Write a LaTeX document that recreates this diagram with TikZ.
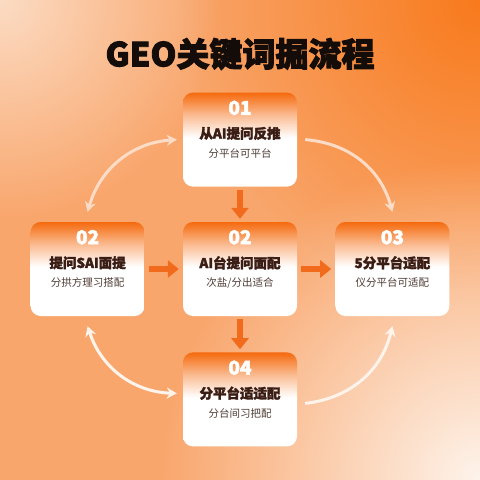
\documentclass[tikz,border=0pt]{standalone}
\usepackage{fontspec}
\newfontfamily\cjk{Noto Sans CJK SC}
\usetikzlibrary{arrows.meta,positioning,fadings}
\newcommand\heavytext[2][0.9]{\special{pdf:literal direct 2 Tr #1 w}#2\special{pdf:literal direct 0 Tr}}
\definecolor{bgpeach}{HTML}{FCDCC4}
\definecolor{bgorange}{HTML}{F9A66C}
\definecolor{bgcream}{HTML}{FEF4EC}
\definecolor{bgdeep}{HTML}{F87A1C}
\definecolor{cardorange}{HTML}{F56A0E}
\definecolor{arroworange}{HTML}{F26A1B}
\definecolor{titleink}{HTML}{140C08}
\definecolor{cardink}{HTML}{3A1D14}
\definecolor{subink}{HTML}{4E3C35}
\definecolor{arcpale}{HTML}{FCDCC6}
\definecolor{arclight}{HTML}{FFF4EC}
\pgfdeclareverticalshading{cardshade}{100bp}{color(0bp)=(white); color(25bp)=(white); color(51bp)=(white); color(63bp)=(cardorange!45!white); color(75bp)=(cardorange); color(100bp)=(cardorange)}
\tikzfading[name=glowfade, inner color=transparent!0, outer color=transparent!100]
\begin{document}
\begin{tikzpicture}[x=1pt,y=-1pt,
    card/.style={shade, shading=cardshade, rounded corners=10pt, minimum width=114pt, minimum height=94pt, inner sep=0pt},
    cardnum/.style={text=white, font=\cjk\bfseries\fontsize{19}{19}\selectfont},
    cardhead/.style={text=cardink, font=\cjk\bfseries\fontsize{13.5}{14}\selectfont},
    cardsub/.style={text=subink, font=\cjk\fontsize{10.5}{11}\selectfont},
    flowarrow/.style={arroworange, line width=6pt, -{Triangle[length=11pt,width=17pt]}},
    oneway/.style={line width=3pt, -{Stealth[length=10pt,width=11pt]}},
    twoway/.style={line width=3pt, {Stealth[length=10pt,width=11pt]}-{Stealth[length=10pt,width=11pt]}}]
    % background
    \useasboundingbox (0,0) rectangle (480,480);
    \begin{scope}
        \clip (0,0) rectangle (480,480);
        \fill[bgorange] (0,0) rectangle (480,480);
        \fill[bgdeep, path fading=glowfade] (480,0) circle (300);
        \fill[bgpeach, path fading=glowfade] (0,0) circle (220);
        \fill[bgcream, path fading=glowfade] (480,480) circle (320);
    \end{scope}
    \node[text=titleink, font=\cjk\bfseries\fontsize{33}{33}\selectfont] (title) at (240,54) {\heavytext{GEO关键词掘流程}};
    % cards
    \node[card] (match) at (240,269) {};
    \node[card, above=35pt of match] (ask) {};
    \node[card, left=38pt of match] (probe) {};
    \node[card, right=38pt of match] (fit) {};
    \node[card, below=36pt of match] (adapt) {};
    \node[cardnum] at ([yshift=-15.5pt]ask.north) {\heavytext[0.5]{01}};
    \node[cardhead] at ([yshift=-41pt]ask.north) {\heavytext[0.3]{从AI提问反推}};
    \node[cardsub] at ([yshift=-61pt]ask.north) {分平台可平台};
    \node[cardnum] at ([yshift=-15.5pt]probe.north) {\heavytext[0.5]{02}};
    \node[cardhead] at ([yshift=-41pt]probe.north) {\heavytext[0.3]{提问SAI面提}};
    \node[cardsub] at ([yshift=-61pt]probe.north) {分拱方理习搭配};
    \node[cardnum] at ([yshift=-15.5pt]match.north) {\heavytext[0.5]{02}};
    \node[cardhead] at ([yshift=-41pt]match.north) {\heavytext[0.3]{AI台提问面配}};
    \node[cardsub] at ([yshift=-61pt]match.north) {次盐/分出适合};
    \node[cardnum] at ([yshift=-15.5pt]fit.north) {\heavytext[0.5]{03}};
    \node[cardhead] at ([yshift=-41pt]fit.north) {\heavytext[0.3]{5分平台适配}};
    \node[cardsub] at ([yshift=-61pt]fit.north) {仪分平台可适配};
    \node[cardnum] at ([yshift=-15.5pt]adapt.north) {\heavytext[0.5]{04}};
    \node[cardhead] at ([yshift=-41pt]adapt.north) {\heavytext[0.3]{分平台适适配}};
    \node[cardsub] at ([yshift=-61pt]adapt.north) {分台间习把配};
    % arrows
    \draw[flowarrow] ([yshift=-3pt]ask.south) -- ([yshift=3pt]match.north);
    \draw[flowarrow] ([yshift=-3pt]match.south) -- ([yshift=3pt]adapt.north);
    \draw[flowarrow] ([xshift=4pt]probe.east) -- ([xshift=-4pt]match.west);
    \draw[flowarrow] ([xshift=4pt]match.east) -- ([xshift=-4pt]fit.west);
    \draw[twoway, arcpale] ([yshift=10pt]probe.north) to[bend left=35] ([xshift=-6pt]ask.west);
    \draw[oneway, arcpale] ([xshift=8pt]ask.east) to[bend left=35] ([yshift=10pt]fit.north);
    \draw[oneway, arclight] ([xshift=8pt,yshift=-4pt]adapt.east) to[bend right=35] ([yshift=-10pt]fit.south);
    \draw[twoway, arclight] ([yshift=-10pt]probe.south) to[bend right=35] ([xshift=-6pt,yshift=6pt]adapt.west);
\end{tikzpicture}
\end{document}
